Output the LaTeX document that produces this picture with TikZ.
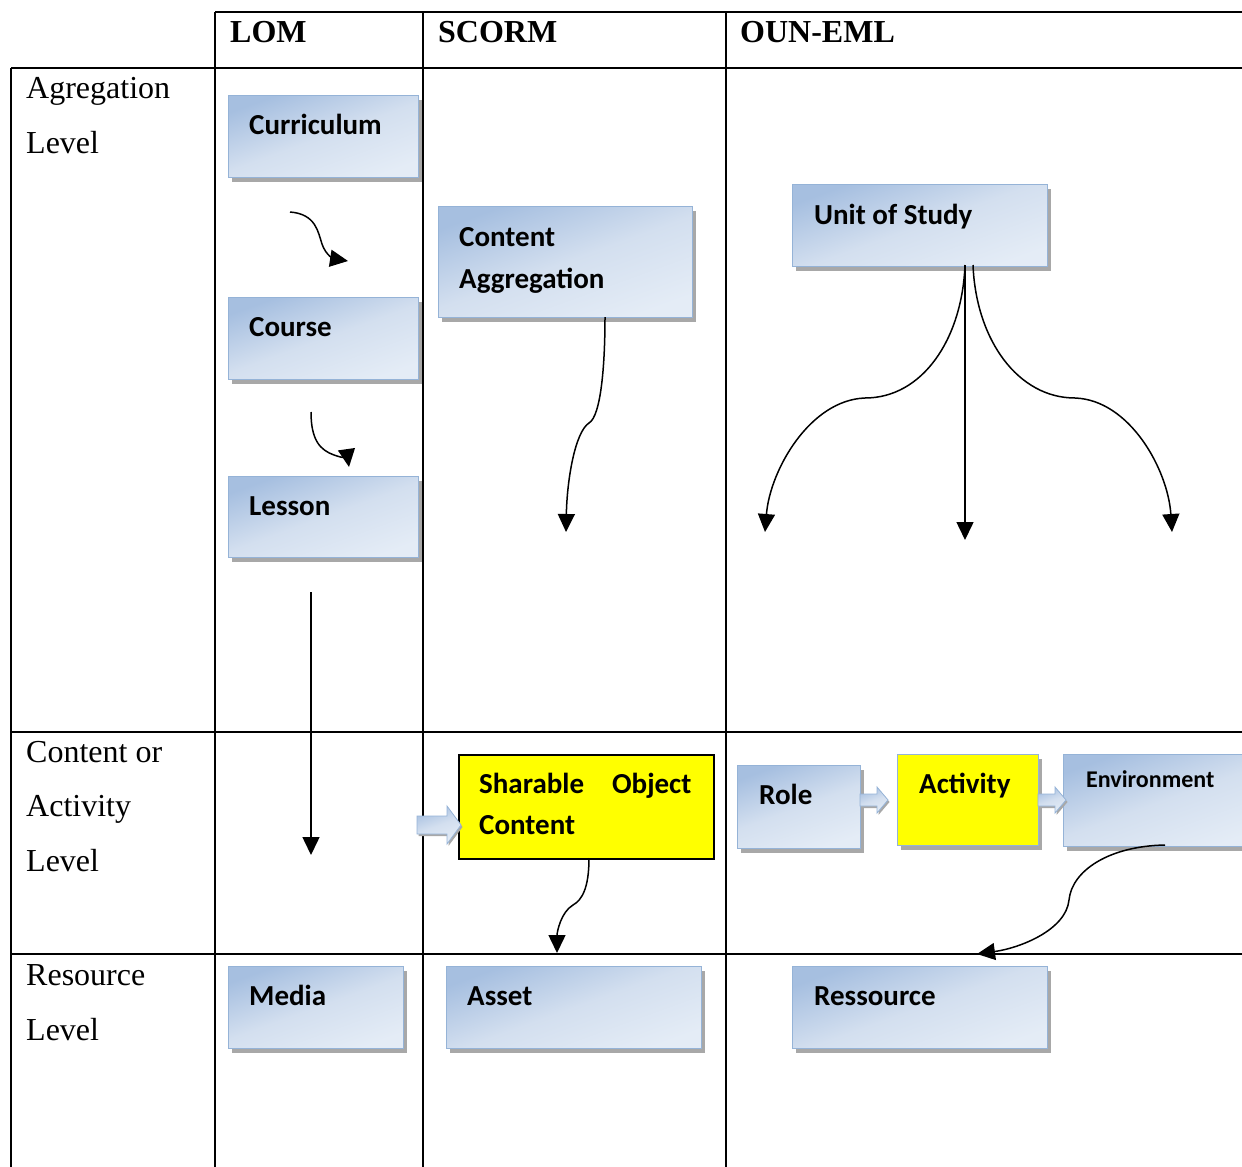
\documentclass[tikz,border=0pt]{standalone}
\usepackage{fontspec}
\setmainfont{Liberation Serif}
\newfontfamily\boxfont{Carlito}
\usetikzlibrary{arrows.meta,shadows}
\definecolor{boxedge}{HTML}{95B3D7}
\definecolor{boxdark}{HTML}{A6BFE0}
\definecolor{boxmid}{HTML}{D3DFEF}
\definecolor{boxlight}{HTML}{E4ECF6}
\definecolor{shadowc}{HTML}{A8A8A8}
\definecolor{hiyellow}{HTML}{FFFF00}

\begin{document}
\begin{tikzpicture}[x=1pt,y=-1pt,
  rule/.style={line width=1.6pt},
  hdr/.style={font=\fontsize{32}{38}\selectfont\bfseries, anchor=base west, inner sep=0},
  rowlbl/.style={font=\fontsize{32}{38}\selectfont, anchor=base west, inner sep=0},
  bshade/.style={top color=boxdark, bottom color=boxlight, middle color=boxmid, shading angle=20},
  bbox/.style={draw=boxedge, line width=1.3pt, bshade, anchor=north west, inner sep=0,
    general shadow={fill=shadowc, shadow xshift=3pt, shadow yshift=-4pt}},
  ybox/.style={fill=hiyellow, anchor=north west, inner sep=0},
  btxt/.style={font=\boxfont\fontsize{29}{35}\selectfont\bfseries, anchor=base west, inner sep=0},
  link/.style={line width=1.5pt, -{Triangle[length=18pt,width=17pt]}},
  blockarrow/.style={draw=boxedge, line width=0.8pt, bshade,
    general shadow={fill=shadowc, shadow xshift=1.5pt, shadow yshift=-2pt}}
]
\useasboundingbox (0,0) rectangle (1242,1167);
\begin{scope}
\clip (0,0) rectangle (1242,1167);

% table rules
\draw[rule] (215,12) -- (1242,12);
\draw[rule] (11,68) -- (1242,68);
\draw[rule] (11,732) -- (1242,732);
\draw[rule] (11,954) -- (1242,954);
\draw[rule] (11,68) -- (11,1167);
\draw[rule] (215,12) -- (215,1167);
\draw[rule] (423,12) -- (423,1167);
\draw[rule] (726,12) -- (726,1167);

% column headers
\node[hdr] (h-lom) at (230,42) {LOM};
\node[hdr] (h-scorm) at (438,42) {SCORM};
\node[hdr] (h-oun) at (740,42) {OUN-EML};

% row labels
\node[rowlbl] (r1a) at (26,98) {Agregation};
\node[rowlbl] (r1b) at (26,153) {Level};
\node[rowlbl] (r2a) at (26,762) {Content or};
\node[rowlbl] (r2b) at (26,816) {Activity};
\node[rowlbl] (r2c) at (26,871) {Level};
\node[rowlbl] (r3a) at (26,985) {Resource};
\node[rowlbl] (r3b) at (26,1040) {Level};

% LOM column
\node[bbox, minimum width=190pt, minimum height=82pt] (cur) at (228,95) {};
\node[btxt] (cur-t) at (249,134) {Curriculum};
\node[bbox, minimum width=190pt, minimum height=82pt] (crs) at (228,297) {};
\node[btxt] (crs-t) at (249,336) {Course};
\node[bbox, minimum width=190pt, minimum height=81pt] (les) at (228,476) {};
\node[btxt] (les-t) at (249,515) {Lesson};
\node[bbox, minimum width=175pt, minimum height=82pt] (media) at (228,966) {};
\node[btxt] (media-t) at (249,1005) {Media};

% SCORM column
\node[bbox, minimum width=254pt, minimum height=111pt] (cagg) at (438,206) {};
\node[btxt] (cagg-t1) at (459,246) {Content};
\node[btxt] (cagg-t2) at (459,288) {Aggregation};
\node[ybox, draw=black, line width=1.5pt, minimum width=255pt, minimum height=104pt] (sco) at (458,754) {};
\node[btxt] (sco-t1) at (479,793) {Sharable\hspace{28pt}Object};
\node[btxt] (sco-t2) at (479,834) {Content};
\node[bbox, minimum width=255pt, minimum height=82pt] (asset) at (446,966) {};
\node[btxt] (asset-t) at (467,1005) {Asset};

% OUN-EML column
\node[bbox, minimum width=255pt, minimum height=82pt] (uos) at (792,184) {};
\node[btxt] (uos-t) at (814,224) {Unit of Study};
\node[bbox, minimum width=123pt, minimum height=83pt] (role) at (737,765) {};
\node[btxt] (role-t) at (759,804) {Role};
\node[ybox, draw=boxedge, line width=1.3pt, minimum width=141pt, minimum height=91pt,
  general shadow={fill=shadowc, shadow xshift=3pt, shadow yshift=-4pt}] (act) at (897,754) {};
\node[btxt] (act-t) at (919,793) {Activity};
\node[bbox, minimum width=200pt, minimum height=92pt] (env) at (1063,754) {};
\node[btxt, font=\boxfont\fontsize{24}{29}\selectfont\bfseries] (env-t) at (1086,787) {Environment};
\node[bbox, minimum width=255pt, minimum height=82pt] (res) at (792,966) {};
\node[btxt] (res-t) at (814,1005) {Ressource};

% wide block arrows
\draw[blockarrow] (417,816) -- (447,816) -- (447,806) -- (461,825) -- (447,844) -- (447,834) -- (417,834) -- cycle;
\draw[blockarrow] (860,794) -- (877,794) -- (877,787) -- (888,800) -- (877,813) -- (877,806) -- (860,806) -- cycle;
\draw[blockarrow] (1038,794) -- (1055,794) -- (1055,787) -- (1066,800) -- (1055,813) -- (1055,806) -- (1038,806) -- cycle;

% free ends of the connectors
\coordinate (a1s) at (290,212);  \coordinate (a1e) at (348,261);
\coordinate (a2s) at (311,412);  \coordinate (a2e) at (349,467);
\coordinate (a3s) at (311,592);  \coordinate (a3e) at (311,855);
\coordinate (a4s) at (605,317);  \coordinate (a4e) at (566,532);
\coordinate (u1) at (965,265);   \coordinate (u2) at (973,265);
\coordinate (uL) at (765,532);   \coordinate (uM) at (965,540);   \coordinate (uR) at (1172,532);
\coordinate (s1) at (589,858);   \coordinate (s2) at (557,953);
\coordinate (e1) at (1165,845);  \coordinate (e2) at (977,954);

% connectors
\draw[link] (a1s) .. controls (316,214) and (318,232) .. (322,244)
                   .. controls (326,256) and (335,259) .. (a1e);
\draw[link] (a2s) .. controls (311,440) and (320,450) .. (334,455)
                   .. controls (343,458) and (348,460) .. (a2e);
\draw[link] (a3s) -- (a3e);
\draw[link] (a4s) .. controls (605,365) and (601,416) .. (589,423)
                   .. controls (575,432) and (567,480) .. (a4e);
\draw[link] (u1) .. controls (962,340) and (922,398) .. (865,398)
                  .. controls (810,400) and (770,470) .. (uL);
\draw[link] (u1) -- (uM);
\draw[link] (u2) .. controls (976,340) and (1018,398) .. (1075,398)
                  .. controls (1130,400) and (1168,470) .. (uR);
\draw[link] (s1) .. controls (589,888) and (582,900) .. (573,905)
                  .. controls (561,912) and (557,932) .. (s2);
\draw[link] (e1) .. controls (1110,846) and (1072,870) .. (1069,900)
                  .. controls (1066,930) and (1020,948) .. (e2);
\end{scope}
\end{tikzpicture}
\end{document}
